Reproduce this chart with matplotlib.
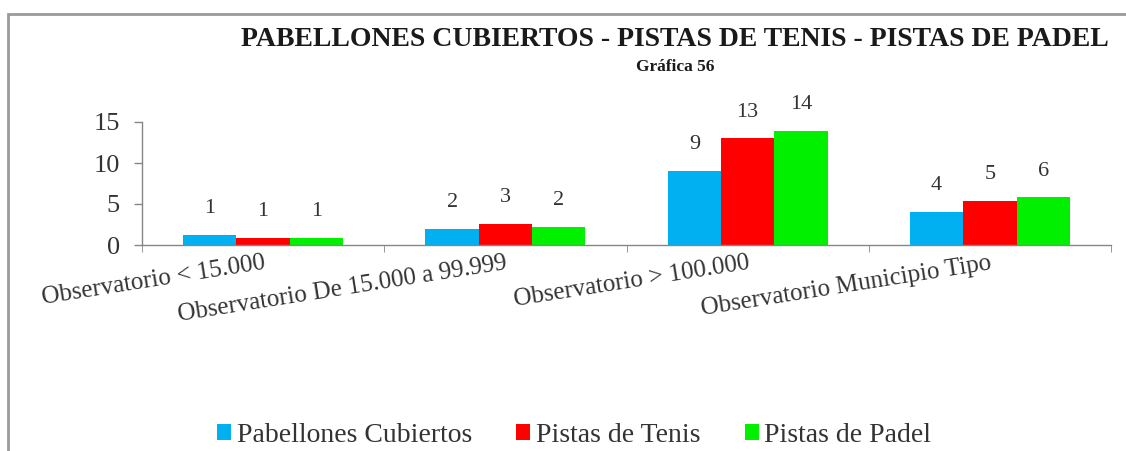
import matplotlib
matplotlib.use("Agg")
import matplotlib.pyplot as plt
import matplotlib.patches as mpatches
import numpy as np

plt.rcParams['font.family'] = ['Liberation Serif', 'DejaVu Serif']

# Datos de la gráfica 56
categorias = ['Observatorio < 15.000', 'Observatorio De 15.000 a 99.999',
              'Observatorio > 100.000', 'Observatorio Municipio Tipo']
pabellones = [1.2, 1.97, 8.98, 4.06]
tenis = [0.85, 2.58, 13.0, 5.4]
padel = [0.85, 2.25, 13.9, 5.8]
series = ['Pabellones Cubiertos', 'Pistas de Tenis', 'Pistas de Padel']
colores = ['#00B0F0', '#FF0000', '#00F000']

fig = plt.figure(figsize=(11.26, 4.51), dpi=100)
ax = fig.add_axes([142/1126, 1-245/451, (1111-142)/1126, (245-122)/451])

# marco gris del área del gráfico
marco = mpatches.Rectangle((8/1126, -0.1), 1.2, 1-14/451+0.1, transform=fig.transFigure,
                           fill=False, edgecolor='#9a9a9a', linewidth=2, clip_on=False)
fig.patches.append(marco)

x = np.arange(len(categorias))
ancho = 0.22
for i, (vals, nombre, col) in enumerate(zip([pabellones, tenis, padel], series, colores)):
    pos = x + (i - 1) * ancho
    ax.bar(pos, vals, width=ancho, color=col, label=nombre, zorder=2)
    for px, v in zip(pos, vals):
        ax.annotate('{:.0f}'.format(v), (px, v), xytext=(0, 19), textcoords='offset points',
                    ha='center', va='center', fontsize=16, color='#333333')

ax.set_xlim(-0.5, 3.5)
ax.set_ylim(0, 15)
ax.set_yticks([0, 5, 10, 15])
ax.tick_params(axis='y', labelsize=19, colors='#868686', labelcolor='#333333',
               length=6, width=1, pad=10)

ax.set_xticks(x)
ax.set_xticklabels(categorias, rotation=9, ha='right', va='top', rotation_mode='anchor',
                   fontsize=18, color='#333333')
ax.tick_params(axis='x', which='major', length=0, pad=5)
ax.set_xticks(np.arange(-0.5, 4, 1), minor=True)
ax.tick_params(axis='x', which='minor', length=5, color='#868686', direction='out')

for lado in ['top', 'right']:
    ax.spines[lado].set_visible(False)
for lado in ['left', 'bottom']:
    ax.spines[lado].set_color('#868686')
    ax.spines[lado].set_linewidth(1)

fig.text(675/1126, 1-40/451, 'PABELLONES CUBIERTOS - PISTAS DE TENIS - PISTAS DE PADEL',
         ha='center', va='center', fontsize=20, fontweight='bold', color='#1a1a1a')
fig.text(675/1126, 1-67/451, 'Gráfica 56', ha='center', va='center', fontsize=12.5,
         fontweight='bold', color='#1a1a1a')

fig.legend(loc='center', bbox_to_anchor=(0.51, 1-435/451), ncol=3, frameon=False,
           fontsize=20, handlelength=0.5, handleheight=0.5, handletextpad=0.2,
           columnspacing=1.6, labelcolor='#333333')

fig.savefig('out.png', dpi=100)
